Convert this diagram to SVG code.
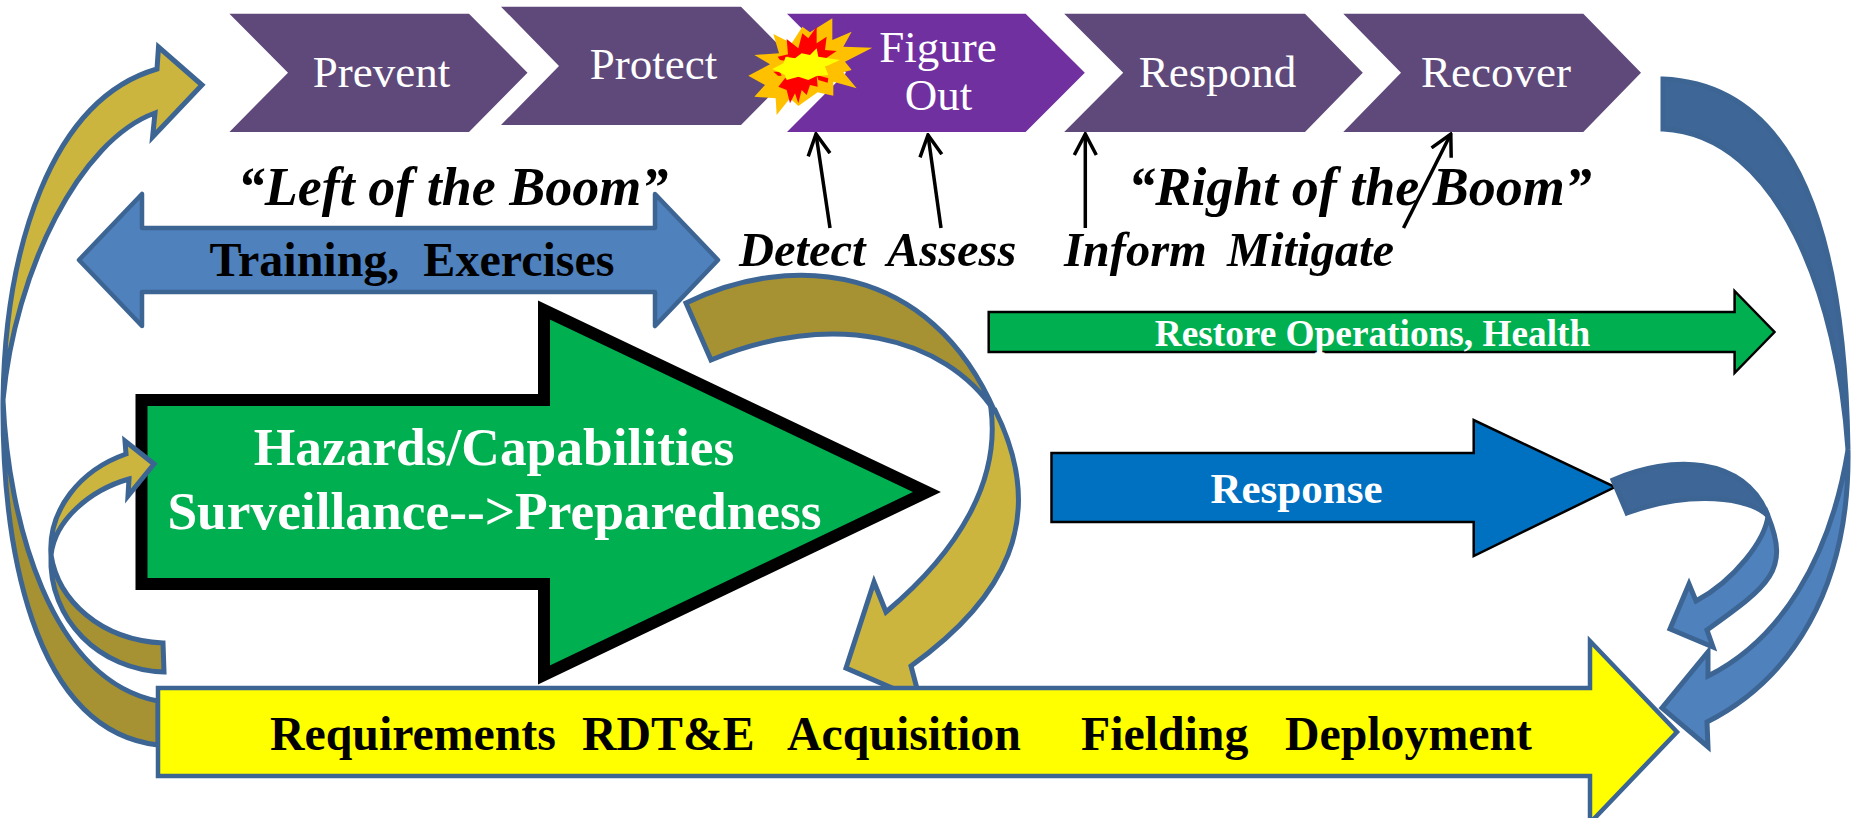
<svg xmlns="http://www.w3.org/2000/svg" width="1854" height="818" viewBox="0 0 1854 818">
<defs>
<style>
text{font-family:"Liberation Serif","Times New Roman",serif;white-space:pre}
.chev{font-size:45px;fill:#fff;text-anchor:middle}
.bi{font-weight:bold;font-style:italic;fill:#000}
.b{font-weight:bold}
.w{fill:#fff}
.curve{stroke:#3d6594;stroke-width:5;stroke-linejoin:miter}
.gl{fill:#ccb53e}.gd{fill:#a69232}.bd{fill:#3e6697}.bl{fill:#4f81bd}
.pt{stroke:#000;stroke-width:3.5;fill:none}
</style>
<marker id="open" viewBox="0 0 24 26" refX="22" refY="13" markerWidth="24" markerHeight="26" markerUnits="userSpaceOnUse" orient="auto"><path d="M1,2 L22,13 L1,24" fill="none" stroke="#000" stroke-width="3.5"/></marker>
</defs>
<rect width="1854" height="818" fill="#fff"/>

<g id="prevent"><polygon points="229.400,13.700 469,13.700 527.500,72.700 469,132 229.400,132 288,72.700" fill="#5f497a"/><text class="chev" x="381.500" y="87">Prevent</text></g>
<g id="protect"><polygon points="501,6.700 741,6.700 799.500,66 741,125 501,125 559,66" fill="#5f497a"/><text class="chev" x="653.500" y="79">Protect</text></g>
<g id="figure-out"><polygon points="787,13.700 1025.600,13.700 1084.800,72.700 1025.600,132 787,132 846,72.700" fill="#7030a0"/><text class="chev" x="938" y="62">Figure</text><text class="chev" x="938.500" y="110">Out</text></g>
<g id="respond"><polygon points="1064.200,13.700 1305,13.700 1362.800,72.700 1305,132 1064.200,132 1123.200,72.700" fill="#5f497a"/><text class="chev" x="1217.500" y="87">Respond</text></g>
<g id="recover"><polygon points="1343.300,13.700 1583.300,13.700 1641,72.700 1583.300,132 1343.300,132 1401,72.700" fill="#5f497a"/><text class="chev" x="1496" y="87">Recover</text></g>

<g id="explosion" transform="translate(745,15) scale(.3333)">
<polygon fill="#ffc000" points="10,182 75,148 28,120 102,115 85,57 140,85 172,35 195,52 262,10 262,75 320,50 295,95 382,98 300,140 320,165 295,172 335,220 265,200 265,242 218,232 160,273 135,250 95,300 92,250 28,245 60,210"/>
<polygon fill="#f00" points="125,72 160,100 172,55 190,70 215,35 215,85 245,65 240,105 275,108 235,135 130,130"/>
<polygon fill="#f00" points="100,215 120,190 215,180 218,215 195,210 185,240 170,225 160,265 150,235 135,265 125,225"/>
<polygon fill="#f00" points="98,125 130,118 125,138 105,135"/>
<polygon fill="#f00" points="85,170 105,170 110,182 100,183"/>
<polygon fill="#f00" points="215,180 250,190 248,203 220,195"/>
<polygon fill="#f00" points="238,148 245,150 243,155"/>
<polygon fill="#ff0" points="82,162 115,145 122,125 150,130 170,115 195,120 215,100 220,125 285,135 240,155 250,180 215,183 190,195 160,185 125,195 120,180"/>
</g>

<g id="left-of-boom"><text class="bi" x="453" y="205" font-size="54" text-anchor="middle">“Left of the Boom”</text></g>
<g id="right-of-boom"><text class="bi" x="1360" y="205" font-size="54" text-anchor="middle">“Right of the Boom”</text></g>

<g id="training"><polygon points="79,260 142,194 142,228 655,228 655,194 718,260 655,326 655,292 142,292 142,326" fill="#4f81bd" stroke="#3d6594" stroke-width="4.500" stroke-linejoin="round"/><text class="b" x="412" y="276" font-size="48" text-anchor="middle">Training,  Exercises</text></g>

<g id="detect-assess-inform-mitigate"><text class="bi" y="266" font-size="48.500"><tspan x="739">Detect</tspan><tspan x="887">Assess</tspan><tspan x="1064">Inform</tspan><tspan x="1227">Mitigate</tspan></text></g>

<g id="restore"><polygon points="988.700,312 1734.600,312 1734.600,291 1774.500,332 1734.600,373 1734.600,352 988.700,352" fill="#00b050" stroke="#000" stroke-width="2.500"/><text class="b w" x="1372.500" y="346" font-size="37.300" text-anchor="middle">Restore Operations, Health</text></g>

<g id="response"><polygon points="1051.500,453 1473.700,453 1473.700,420 1615,487 1473.700,556 1473.700,522 1051.500,522" fill="#0070c0" stroke="#000" stroke-width="2.500"/><text class="b w" x="1296.500" y="503" font-size="43" text-anchor="middle">Response</text></g>

<g id="hazards"><polygon points="141.500,400 544,400 544,310 927,492 544,675 544,584 141.500,584" fill="#00b050" stroke="#000" stroke-width="12"/><text class="b w" x="494" y="465" font-size="53.400" text-anchor="middle">Hazards/Capabilities</text><text class="b w" x="494.500" y="529" font-size="53.400" text-anchor="middle">Surveillance--&gt;Preparedness</text></g>

<g id="connectors">
<g id="curve-requirements-prevent">
<path class="curve gd" d="M3,400 C8,520 50,680 158,701 L158,745 C30,730 2,540 3,400 Z"/>
<path class="curve gl" d="M3,400 C5,250 50,100 157,69 L158.500,47 L202,85 L152.600,137 L155,113 C80,140 15,270 3,400 Z"/>
</g>
<g id="curve-requirements-hazards">
<path class="curve gd" d="M51,555 C58,600 100,640 163,643 L164,672 C100,670 48,620 51,555 Z"/>
<path class="curve gl" d="M51,555 C48,510 80,470 126,454 L125,441 L154,464 L128,496 L129,479 C90,490 55,520 51,555 Z"/>
</g>
<g id="curve-training-requirements">
<path class="curve gd" d="M686,303 C790,252 930,262 995,412 C945,335 830,310 711,360 Z"/>
<path class="curve gl" d="M995,410 C1050,520 1003,600 911,666 L920,700 L846,668 L874,582 L886,612 C960,550 1000,480 991,409 Z"/>
</g>
<g id="curve-response-requirements">
<path class="curve bd" d="M1613,480 C1670,455 1745,455 1768,516 C1750,497 1690,490 1627,513 Z"/>
<path class="curve bl" d="M1768,516 C1790,570 1770,585 1707,630 L1713,647 L1670,629 L1689,584 L1696,601 C1735,580 1765,540 1768,516 Z"/>
</g>
<g id="curve-recover-requirements">
<path class="curve bd" d="M1663,79 C1800,85 1845,240 1848,450 C1838,300 1780,135 1663,129 Z"/>
<path class="curve bl" d="M1848,450 C1850,590 1790,680 1707,722 L1708,747 L1662,708 L1708,652 L1708,676 C1780,640 1830,560 1848,450 Z"/>
</g>
<line class="pt" x1="830" y1="228" x2="816" y2="134" marker-end="url(#open)"/>
<line class="pt" x1="941" y1="228" x2="928" y2="135" marker-end="url(#open)"/>
<line class="pt" x1="1085.300" y1="228" x2="1085.300" y2="134" marker-end="url(#open)"/>
<line class="pt" x1="1403.500" y1="228" x2="1450.800" y2="134" marker-end="url(#open)"/>
</g>

<g id="requirements"><polygon points="158,688 1590,688 1590,641 1677,732 1590,823 1590,776 158,776" fill="#ff0" stroke="#3d6594" stroke-width="4.500"/><text class="b" y="750" font-size="47.800"><tspan x="270">Requirements</tspan><tspan x="582">RDT&amp;E</tspan><tspan x="787">Acquisition</tspan><tspan x="1081">Fielding</tspan><tspan x="1285">Deployment</tspan></text></g>
</svg>
